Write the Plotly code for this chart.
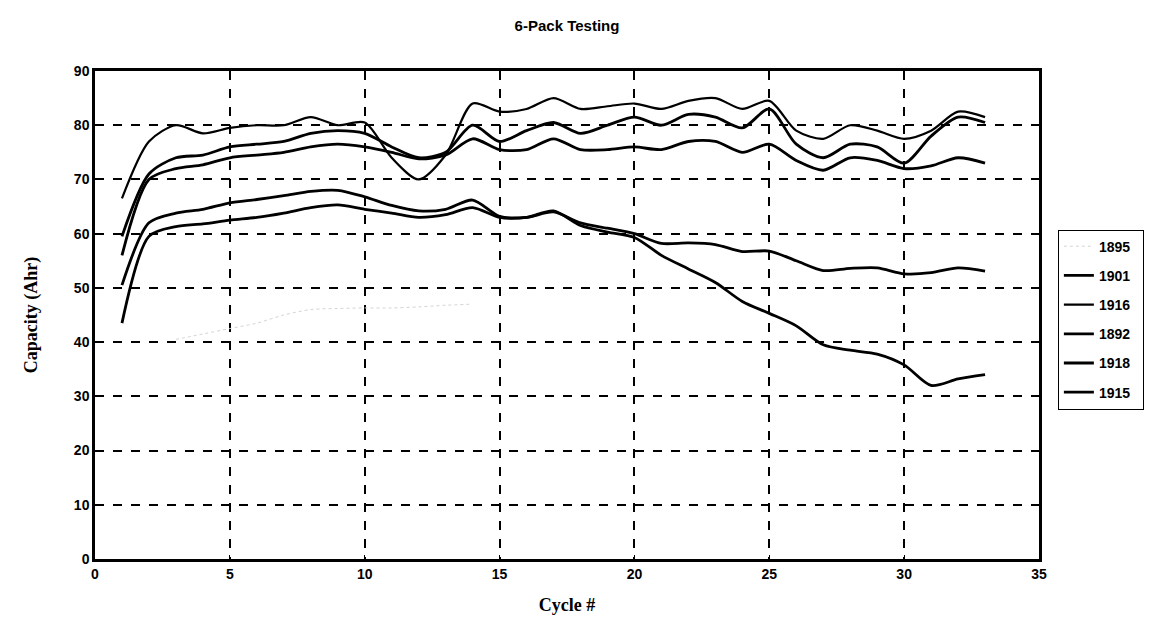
import plotly.graph_objects as go

cycles = list(range(1, 34))

s1916 = [66.5, 77, 80, 78.5, 79.5, 80, 80, 81.5, 80, 80.5, 74, 70, 74.5, 84, 82.5, 83,
         85, 83, 83.5, 84, 83, 84.5, 85, 83, 84.5, 79, 77.5, 80, 79, 77.5, 79, 82.5, 81.5]
s1901 = [59.5, 71, 74, 74.5, 76, 76.5, 77, 78.5, 79, 78.5, 76, 74, 75, 80, 77, 79,
         80.5, 78.5, 80, 81.5, 80, 82, 81.5, 79.5, 83, 76.5, 74, 76.5, 76, 73, 78, 81.5, 80.5]
s1892 = [56, 70, 72, 72.7, 74, 74.5, 75, 76, 76.5, 76, 75, 73.8, 74.5, 77.5, 75.5, 75.5,
         77.5, 75.5, 75.5, 76, 75.5, 77, 77, 75, 76.5, 73.5, 71.7, 74, 73.5, 72, 72.5, 74, 73]
s1918 = [50.5, 62, 63.8, 64.5, 65.7, 66.3, 67, 67.8, 68, 66.8, 65.2, 64.2, 64.5, 66.2, 63.2, 63,
         64, 62, 61, 60, 58.2, 58.3, 58, 56.7, 56.8, 55, 53.2, 53.6, 53.7, 52.6, 52.8, 53.7, 53.1]
s1915 = [43.5, 59.5, 61.3, 61.8, 62.5, 63, 63.8, 64.8, 65.3, 64.5, 63.8, 63, 63.5, 64.8, 63, 63,
         64.2, 61.5, 60.3, 59.3, 56, 53.5, 51, 47.5, 45.3, 43, 39.5, 38.5, 37.8, 35.8, 32, 33.2, 34]
cycles_1895 = list(range(3, 15))
s1895 = [40.5, 41.5, 42.5, 43.5, 45, 46, 46.2, 46.3, 46.3, 46.5, 46.8, 47]

series = [
    ("1895", cycles_1895, s1895, dict(color="#d4d4d4", width=1, dash="dot")),
    ("1901", cycles, s1901, dict(color="black", width=2.8)),
    ("1916", cycles, s1916, dict(color="black", width=2.2)),
    ("1892", cycles, s1892, dict(color="black", width=2.8)),
    ("1918", cycles, s1918, dict(color="black", width=2.8)),
    ("1915", cycles, s1915, dict(color="black", width=2.8)),
]

fig = go.Figure()
for name, xs, ys, line in series:
    ln = dict(line)
    ln["shape"] = "spline"
    ln["smoothing"] = 0.8
    fig.add_trace(go.Scatter(x=xs, y=ys, mode="lines", name=name + "\u00a0\u00a0", line=ln,
                             legendgroup=name))

tickfont = dict(family="Liberation Sans, Arial", size=14, color="black", weight="bold")

fig.update_layout(
    width=1167, height=628,
    margin=dict(l=87, r=136, t=63, b=77),
    paper_bgcolor="white", plot_bgcolor="white",
    title=dict(text="<b>6-Pack Testing</b>", x=0.479, xanchor="center", y=0.972, yanchor="middle",
               font=dict(family="Liberation Sans, Arial", size=15, color="black")),
    legend=dict(x=1.02, xanchor="left", y=0.675, yanchor="top",
                bordercolor="black", borderwidth=1, bgcolor="white",
                font=dict(family="Liberation Sans, Arial", size=14, color="black", weight="bold"),
                tracegroupgap=8, traceorder="grouped"),
    showlegend=True,
)
fig.update_xaxes(range=[0, 35], dtick=5, tick0=0, showline=True, linecolor="black", linewidth=2.5,
                 mirror=True, showgrid=True, gridcolor="black", gridwidth=1.5, griddash="dash",
                 ticks="inside", ticklen=4, tickcolor="black", tickfont=tickfont, zeroline=False,
                 title=dict(text="<b>Cycle #</b>", standoff=18,
                            font=dict(family="Liberation Serif, Times New Roman", size=18, color="black")))
fig.update_yaxes(range=[0, 90], dtick=10, tick0=0, showline=True, linecolor="black", linewidth=2.5,
                 mirror=True, showgrid=True, gridcolor="black", gridwidth=1.5, griddash="dash",
                 ticks="inside", ticklen=4, tickcolor="black", tickfont=tickfont, zeroline=False,
                 title=dict(text="<b>Capacity (Ahr)</b>", standoff=32,
                            font=dict(family="Liberation Serif, Times New Roman", size=18, color="black")))

fig.write_html("out.html")
